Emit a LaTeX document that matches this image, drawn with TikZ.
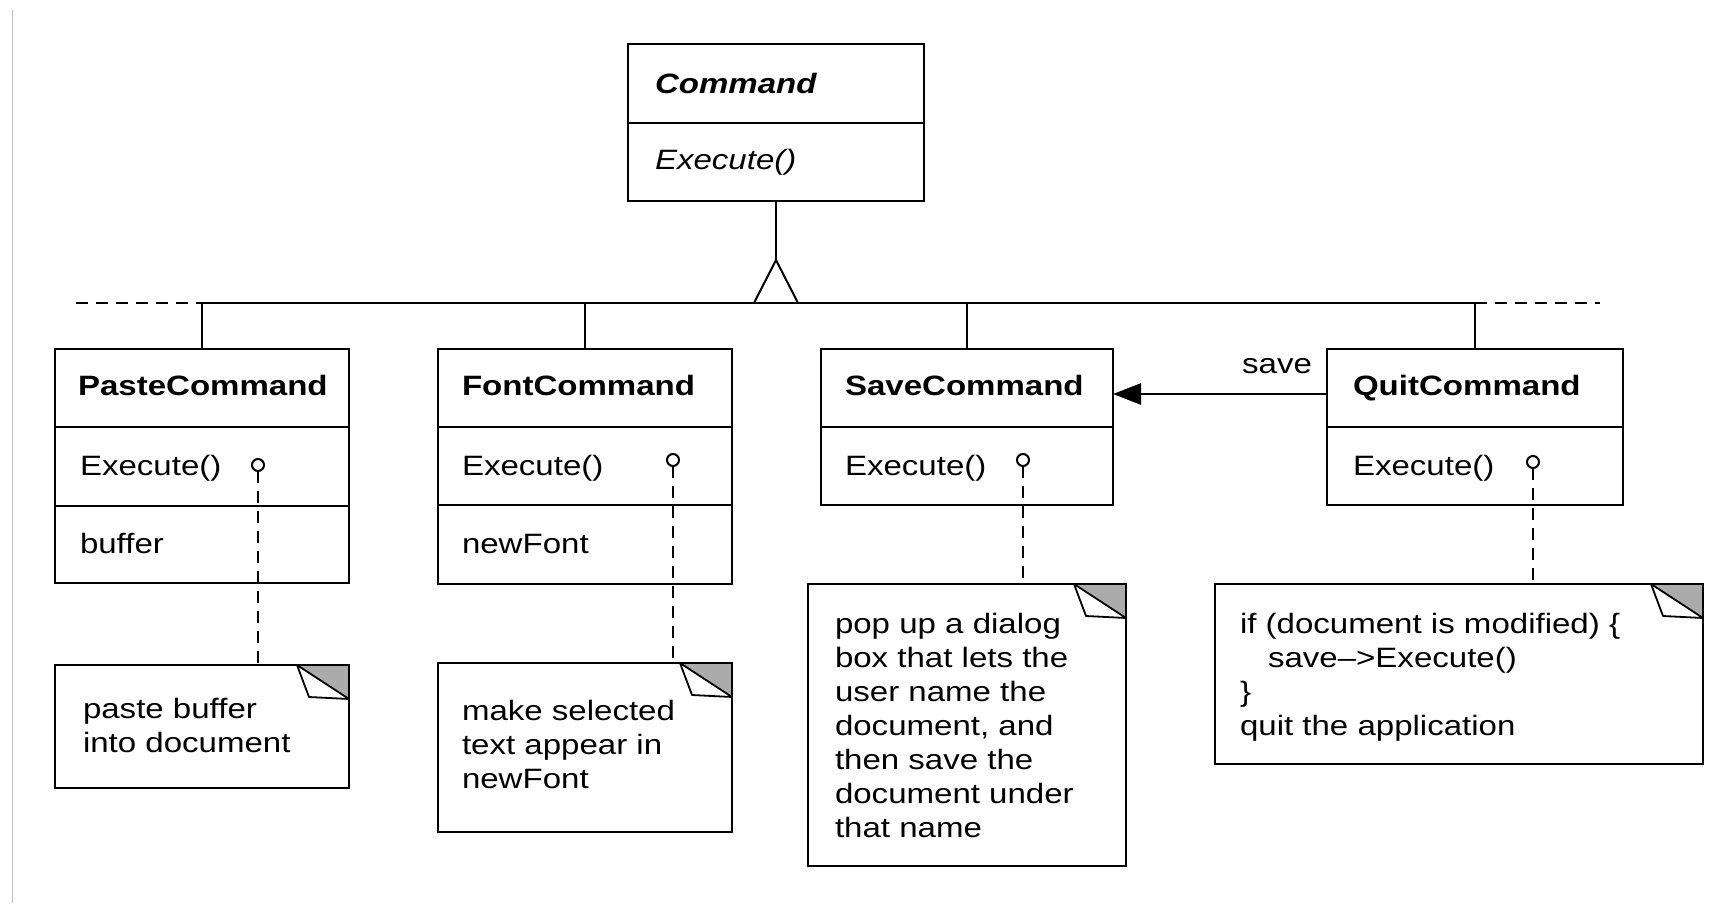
\documentclass[tikz,border=0pt]{standalone}
\usepackage{fontspec}
\setmainfont{Liberation Sans}[FakeStretch=1.18]
\usetikzlibrary{arrows.meta}
\definecolor{eargray}{HTML}{ABABAB}
\newcommand\dogear[1]{%
  \fill[eargray] ([xshift=-52pt]#1.north east) -- (#1.north east) -- ([yshift=-34pt]#1.north east) -- cycle;
  \filldraw[fill=white, line width=1.8pt, line join=round] ([xshift=-52pt]#1.north east) -- ([xshift=-40pt,yshift=-32pt]#1.north east) -- ([yshift=-34pt]#1.north east) -- cycle;
  \draw[line width=2.8pt] (#1.north west) rectangle (#1.south east);
}
\begin{document}
\begin{tikzpicture}[x=1pt,y=-1pt,
  line width=2.8pt,
  box/.style={draw, line width=2.8pt, inner sep=0pt, outer sep=0pt, anchor=north west, fill=white},
  lbl/.style={anchor=base west, inner sep=0pt, outer sep=0pt, font=\fontsize{28}{34}\selectfont},
  ttl/.style={lbl, font=\fontsize{28}{34}\selectfont\bfseries},
  notetext/.style={lbl, align=left},
  pin/.style={circle, draw, line width=2pt, fill=white, minimum size=12pt, inner sep=0pt, outer sep=0pt},
  dashline/.style={line width=2.4pt, dash pattern=on 12pt off 8pt}
]
\fill[white] (0,0) rectangle (1733,903);
\useasboundingbox (0,0) rectangle (1733,903);
\draw[black!25, line width=1.2pt] (12.5,10) -- (12.5,903);

% Abstract class
\node[box, minimum width=296pt, minimum height=157pt] (cmd) at (628,44) {};
\draw (cmd.west |- 0,123) -- (cmd.east |- 0,123);
\node[lbl, font=\fontsize{28}{34}\selectfont\bfseries\itshape] (tcmd) at (655,93) {Command};
\node[lbl, font=\fontsize{28}{34}\selectfont\itshape] (tcmdx) at (655,169) {Execute()};

% Subclasses
\node[box, minimum width=294pt, minimum height=234pt] (paste) at (55,349) {};
\draw (paste.west |- 0,427) -- (paste.east |- 0,427);
\draw (paste.west |- 0,506) -- (paste.east |- 0,506);
\node[ttl] (tpaste) at (78,395) {PasteCommand};
\node[lbl] (xpaste) at (80,475) {Execute()};
\node[lbl] (bpaste) at (80,553) {buffer};

\node[box, minimum width=294pt, minimum height=235pt] (font) at (438,349) {};
\draw (font.west |- 0,427) -- (font.east |- 0,427);
\draw (font.west |- 0,505) -- (font.east |- 0,505);
\node[ttl] (tfont) at (462,395) {FontCommand};
\node[lbl] (xfont) at (462,475) {Execute()};
\node[lbl] (bfont) at (462,553) {newFont};

\node[box, minimum width=292pt, minimum height=156pt] (save) at (821,349) {};
\draw (save.west |- 0,427) -- (save.east |- 0,427);
\node[ttl] (tsave) at (845,395) {SaveCommand};
\node[lbl] (xsave) at (845,475) {Execute()};

\node[box, minimum width=296pt, minimum height=156pt] (quit) at (1327,349) {};
\draw (quit.west |- 0,427) -- (quit.east |- 0,427);
\node[ttl] (tquit) at (1353,395) {QuitCommand};
\node[lbl] (xquit) at (1353,475) {Execute()};

% Inheritance
\coordinate (barL) at (76,303);
\coordinate (barR) at (1600,303);
\coordinate (apex) at (776,260);
\draw (cmd.south) -- (apex);
\draw (paste.north |- barL) -- (quit.north |- barL);
\draw[dashline] (barL) -- (paste.north |- barL);
\draw[dashline] (quit.north |- barL) -- (barR);
\draw[line width=2pt, line join=miter] (754,303) -- (apex) -- (798,303);
\draw (paste.north) -- (paste.north |- barL);
\draw (font.north) -- (font.north |- barL);
\draw (save.north) -- (save.north |- barL);
\draw (quit.north) -- (quit.north |- barL);

% Acquaintance
\draw[-{Triangle[length=28pt,width=21pt]}] (quit.west |- 0,394) -- (save.east |- 0,394);
\node[lbl, anchor=base east] (lsave) at (1312,373) {save};

% Notes
\node[box, minimum width=294pt, minimum height=123pt] (npaste) at (55,665) {};
\dogear{npaste}
\node[notetext] (tnpaste) at (83,752) {paste buffer\\into document};

\node[box, minimum width=294pt, minimum height=169pt] (nfont) at (438,663) {};
\dogear{nfont}
\node[notetext] (tnfont) at (462,788) {make selected\\text appear in\\newFont};

\node[box, minimum width=318pt, minimum height=282pt] (nsave) at (808,584) {};
\dogear{nsave}
\node[notetext] (tnsave) at (835,837) {pop up a dialog\\box that lets the\\user name the\\document, and\\then save the\\document under\\that name};

\node[box, minimum width=488pt, minimum height=180pt] (nquit) at (1215,584) {};
\dogear{nquit}
\node[notetext] (tnquit) at (1240,735) {if (document is modified) \{\\\hspace*{28pt}save--{}>Execute()\\\}\\quit the application};

% Implementation pins
\node[pin] (ppaste) at (258,465) {};
\node[pin] (pfont) at (673,460) {};
\node[pin] (psave) at (1023,460) {};
\node[pin] (pquit) at (1533,462) {};
\draw[dashline] (ppaste.south) -- (ppaste.south |- npaste.north);
\draw[dashline] (pfont.south) -- (pfont.south |- nfont.north);
\draw[dashline] (psave.south) -- (psave.south |- nsave.north);
\draw[dashline] (pquit.south) -- (pquit.south |- nquit.north);
\end{tikzpicture}
\end{document}
